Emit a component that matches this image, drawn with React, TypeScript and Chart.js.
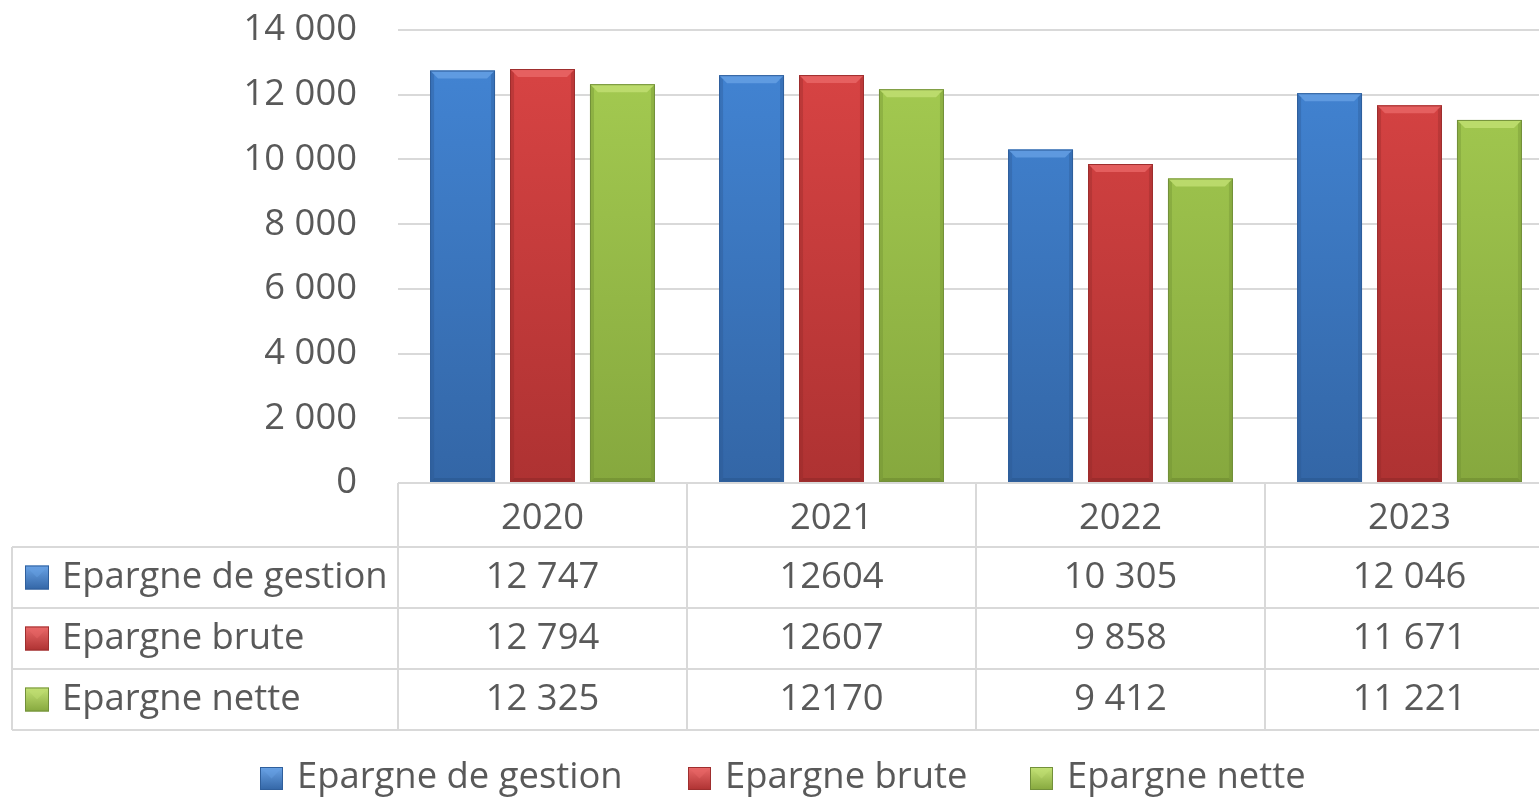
import React, { useEffect, useRef } from "react";
import { Chart, registerables } from "chart.js";

Chart.register(...registerables);

const categories = ["2020", "2021", "2022", "2023"];
const seriesNames = ["Epargne de gestion", "Epargne brute", "Epargne nette"];
const epargneGestion = [12747, 12604, 10305, 12046];
const epargneBrute = [12794, 12607, 9858, 11671];
const epargneNette = [12325, 12170, 9412, 11221];
const tableGestion = ["12 747", "12604", "10 305", "12 046"];
const tableBrute = ["12 794", "12607", "9 858", "11 671"];
const tableNette = ["12 325", "12170", "9 412", "11 221"];
const yMax = 14000;
const yStep = 2000;

const FAMILY = "'Open Sans', sans-serif";
const TEXT = "#595959";
const GRID = "#d9d9d9";

const palette = [
  { top: "#4386d6", bottom: "#3366a6", light: "#6aa3e6", dark: "#2a5690", edge: "#2f5f9c" },
  { top: "#db4545", bottom: "#ae3232", light: "#eb6a6a", dark: "#8f2828", edge: "#9e2e2e" },
  { top: "#a6cd52", bottom: "#86a83e", light: "#c4e276", dark: "#6e8b30", edge: "#72903a" },
];

function fmt(v: number) {
  return String(v).replace(/\B(?=(\d{3})+(?!\d))/g, " ");
}

function fitSize(): number {
  const c = document.createElement("canvas").getContext("2d")!;
  c.font = `100px ${FAMILY}`;
  const w = c.measureText("Epargne de gestion").width;
  return Math.round((326 / w) * 100 * 10) / 10;
}

export default function App() {
  const ref = useRef<HTMLCanvasElement>(null);
  useEffect(() => {
    const fs = fitSize();
    const font = { family: FAMILY, size: fs };
    const tableRows = [tableGestion, tableBrute, tableNette];

    const bevel = {
      id: "bevel",
      afterDatasetsDraw(chart: any) {
        const ctx = chart.ctx;
        chart.data.datasets.forEach((ds: any, di: number) => {
          const meta = chart.getDatasetMeta(di);
          const p = palette[di];
          meta.data.forEach((bar: any) => {
            const l = bar.x - bar.width / 2;
            const r = bar.x + bar.width / 2;
            const t = bar.y;
            const b = bar.base;
            const e = 8;
            ctx.save();
            ctx.fillStyle = p.light;
            ctx.globalAlpha = 0.75;
            ctx.beginPath();
            ctx.moveTo(l, t);
            ctx.lineTo(r, t);
            ctx.lineTo(r - e, t + e);
            ctx.lineTo(l + e, t + e);
            ctx.closePath();
            ctx.fill();
            ctx.globalAlpha = 0.35;
            ctx.fillStyle = p.dark;
            ctx.beginPath();
            ctx.moveTo(l, t);
            ctx.lineTo(l + 4, t + 4);
            ctx.lineTo(l + 4, b - 4);
            ctx.lineTo(l, b);
            ctx.closePath();
            ctx.fill();
            ctx.beginPath();
            ctx.moveTo(r, t);
            ctx.lineTo(r - 4, t + 4);
            ctx.lineTo(r - 4, b - 4);
            ctx.lineTo(r, b);
            ctx.closePath();
            ctx.fill();
            ctx.globalAlpha = 0.6;
            ctx.beginPath();
            ctx.moveTo(l, b);
            ctx.lineTo(r, b);
            ctx.lineTo(r - 4, b - 4);
            ctx.lineTo(l + 4, b - 4);
            ctx.closePath();
            ctx.fill();
            ctx.globalAlpha = 1;
            ctx.strokeStyle = p.edge;
            ctx.lineWidth = 1;
            ctx.strokeRect(l + 0.5, t + 0.5, r - l - 1, b - t - 1);
            ctx.restore();
          });
        });
      },
    };

    function drawMarker(ctx: CanvasRenderingContext2D, x: number, y: number, s: number, p: any) {
      const g = ctx.createLinearGradient(0, y, 0, y + s);
      g.addColorStop(0, p.light);
      g.addColorStop(1, p.bottom);
      ctx.fillStyle = g;
      ctx.fillRect(x, y, s, s);
      ctx.beginPath();
      ctx.moveTo(x + 3, y + 3);
      ctx.lineTo(x + s - 3, y + 3);
      ctx.lineTo(x + s / 2, y + s / 2);
      ctx.closePath();
      ctx.globalAlpha = 0.4;
      ctx.fillStyle = p.light;
      ctx.fill();
      ctx.globalAlpha = 1;
      ctx.strokeStyle = p.edge;
      ctx.lineWidth = 1;
      ctx.strokeRect(x + 0.5, y + 0.5, s - 1, s - 1);
    }

    const table = {
      id: "dataTable",
      afterDraw(chart: any) {
        const ctx: CanvasRenderingContext2D = chart.ctx;
        const xs = chart.scales.x;
        const area = chart.chartArea;
        const half = (xs.getPixelForValue(1) - xs.getPixelForValue(0)) / 2;
        const top = area.bottom;
        const rowTops = [top + 64, top + 125, top + 186, top + 247];
        const labelLeft = 12;
        ctx.save();
        ctx.strokeStyle = GRID;
        ctx.lineWidth = 2;
        ctx.beginPath();
        categories.forEach((_, i) => {
          const xl = xs.getPixelForValue(i) - half;
          ctx.moveTo(xl, top);
          ctx.lineTo(xl, rowTops[3]);
        });
        const xr = xs.getPixelForValue(categories.length - 1) + half;
        ctx.moveTo(xr, top);
        ctx.lineTo(xr, rowTops[3]);
        ctx.moveTo(labelLeft, rowTops[0]);
        ctx.lineTo(labelLeft, rowTops[3]);
        rowTops.forEach((ry) => {
          ctx.moveTo(labelLeft, ry);
          ctx.lineTo(xr, ry);
        });
        ctx.stroke();

        ctx.font = `${fs}px ${FAMILY}`;
        ctx.fillStyle = TEXT;
        ctx.textBaseline = "middle";
        tableRows.forEach((row, ri) => {
          const cy = (rowTops[ri] + rowTops[ri + 1]) / 2;
          ctx.textAlign = "left";
          drawMarker(ctx, 25, cy - 12, 24, palette[ri]);
          ctx.fillStyle = TEXT;
          ctx.fillText(seriesNames[ri], 62, cy);
          ctx.textAlign = "center";
          row.forEach((txt, ci) => {
            ctx.fillText(txt, xs.getPixelForValue(ci), cy);
          });
        });

        const ly = 778;
        const itemStarts = [260, 688, 1030];
        seriesNames.forEach((n, i) => {
          drawMarker(ctx, itemStarts[i], ly - 11, 23, palette[i]);
          ctx.fillStyle = TEXT;
          ctx.textAlign = "left";
          ctx.fillText(n, itemStarts[i] + 37, ly);
        });
        ctx.restore();
      },
    };

    const grad = (di: number) => (c: any) => {
      const a = c.chart.chartArea;
      if (!a) return palette[di].top;
      const g = c.chart.ctx.createLinearGradient(0, a.top, 0, a.bottom);
      g.addColorStop(0, palette[di].top);
      g.addColorStop(1, palette[di].bottom);
      return g;
    };

    const chart = new Chart(ref.current!, {
      type: "bar",
      data: {
        labels: categories,
        datasets: [epargneGestion, epargneBrute, epargneNette].map((d, i) => ({
          label: seriesNames[i],
          data: d,
          backgroundColor: grad(i),
          borderWidth: 0,
          categoryPercentage: 0.83,
          barPercentage: 0.8125,
        })),
      },
      options: {
        responsive: false,
        animation: false,
        layout: { padding: { top: 30, left: 0, right: 0, bottom: 0 } },
        plugins: { legend: { display: false }, tooltip: { enabled: false } },
        scales: {
          x: {
            grid: { display: false, drawTicks: false },
            border: { display: false },
            ticks: { font, color: TEXT, padding: 14 },
            afterFit: (s: any) => {
              s.height = 315;
            },
          },
          y: {
            min: 0,
            max: yMax,
            grid: { color: GRID, lineWidth: 2, drawTicks: false },
            border: { display: false },
            ticks: {
              stepSize: yStep,
              font,
              color: TEXT,
              padding: 41,
              callback: (v: any) => fmt(Number(v)),
            },
            afterFit: (s: any) => {
              s.width = 398;
              s.paddingTop = 20;
              s.paddingBottom = 20;
            },
          },
        },
      },
      plugins: [bevel, table],
    });
    return () => chart.destroy();
  }, []);

  return (
    <div style={{ position: "fixed", left: 0, top: 0, width: 1539, height: 798, overflow: "hidden", background: "#fff" }}>
      <canvas ref={ref} width={1554} height={798} style={{ display: "block" }} />
    </div>
  );
}
